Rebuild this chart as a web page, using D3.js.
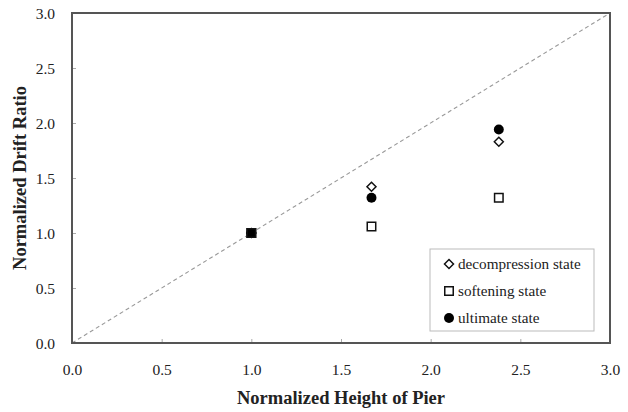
<!DOCTYPE html>
<html>
<head>
<meta charset="utf-8">
<script src="https://cdn.jsdelivr.net/npm/d3@7"></script>
<style>
  html, body { margin: 0; padding: 0; background: #fff; }
  svg { display: block; }
  svg text { font-family: 'Liberation Serif', 'Times New Roman', Times, 'DejaVu Serif', serif !important; }
</style>
</head>
<body>
<svg id="chart" width="628" height="412"></svg>
<script>
// Normalized pier heights for each specimen
const pierHeights = [1.0, 1.67, 2.38];
// Normalized drift ratio at each damage state
const decompression = [1.0, 1.42, 1.83];
const softening = [1.0, 1.06, 1.32];
const ultimate = [1.0, 1.32, 1.94];
const tickValues = [0, 0.5, 1.0, 1.5, 2.0, 2.5, 3.0];
const legendLabels = ["decompression state", "softening state", "ultimate state"];

const serif = "'Liberation Serif', 'Times New Roman', Times, 'DejaVu Serif', serif";
const svg = d3.select("#chart").attr("font-family", serif);
const plotLeft = 72, plotRight = 610, plotTop = 13, plotBottom = 343;

const x = d3.scaleLinear().domain([0, 3]).range([plotLeft, plotRight]);
const y = d3.scaleLinear().domain([0, 3]).range([plotBottom, plotTop]);

// Tick marks (inside the frame) and labels
const xAxis = d3.axisBottom(x).tickValues(tickValues).tickSize(-4).tickPadding(0).tickFormat(d3.format(".1f"));
const yAxis = d3.axisLeft(y).tickValues(tickValues).tickSize(-4).tickPadding(0).tickFormat(d3.format(".1f"));

const gx = svg.append("g").attr("transform", `translate(0,${plotBottom})`).call(xAxis)
  .attr("font-family", serif).attr("font-size", 15.5);
gx.select(".domain").remove();
gx.selectAll(".tick line").attr("stroke", "#aaa");
gx.selectAll(".tick text").attr("y", 32).attr("dy", 0).attr("fill", "#222");

const gy = svg.append("g").attr("transform", `translate(${plotLeft},0)`).call(yAxis)
  .attr("font-family", serif).attr("font-size", 15.5);
gy.select(".domain").remove();
gy.selectAll(".tick line").attr("stroke", "#aaa");
gy.selectAll(".tick text").attr("x", -17).attr("dy", "0.33em").attr("fill", "#222");

// 1:1 reference line
svg.append("line")
  .attr("x1", x(0)).attr("y1", y(0)).attr("x2", x(3)).attr("y2", y(3))
  .attr("stroke", "#999").attr("stroke-width", 1.1).attr("stroke-dasharray", "4,3");

// Plot frame
svg.append("rect")
  .attr("x", plotLeft).attr("y", plotTop)
  .attr("width", plotRight - plotLeft).attr("height", plotBottom - plotTop)
  .attr("fill", "none").attr("stroke", "#555").attr("stroke-width", 2);

// Marker shapes
const squareSym = d3.symbol().type(d3.symbolSquare).size(72);
const circleSym = d3.symbol().type(d3.symbolCircle).size(78);
function diamondPath(s) {
  return `M0,${-s}L${s},0L0,${s}L${-s},0Z`;
}

// Softening state: open squares
svg.append("g").selectAll("path").data(pierHeights).join("path")
  .attr("d", squareSym)
  .attr("transform", (d, i) => `translate(${x(d)},${y(softening[i])})`)
  .attr("fill", "#fff").attr("stroke", "#111").attr("stroke-width", 1.5);

// Decompression state: open diamonds
svg.append("g").selectAll("path").data(pierHeights).join("path")
  .attr("d", diamondPath(4.5))
  .attr("transform", (d, i) => `translate(${x(d)},${y(decompression[i])})`)
  .attr("fill", "#fff").attr("stroke", "#111").attr("stroke-width", 1.5);

// Ultimate state: filled circles
svg.append("g").selectAll("path").data(pierHeights).join("path")
  .attr("d", circleSym)
  .attr("transform", (d, i) => `translate(${x(d)},${y(ultimate[i])})`)
  .attr("fill", "#000");

// Coincident markers at the reference pier render as a solid block
svg.append("path")
  .attr("d", squareSym)
  .attr("transform", `translate(${x(pierHeights[0])},${y(softening[0])})`)
  .attr("fill", "#000").attr("stroke", "#111").attr("stroke-width", 1.5);

// Legend
const lg = svg.append("g");
lg.append("rect").attr("x", 430).attr("y", 249).attr("width", 164).attr("height", 82)
  .attr("fill", "#fff").attr("stroke", "#bbb").attr("stroke-width", 1);
const rows = [264, 291, 318];
lg.append("path").attr("d", diamondPath(4.5)).attr("transform", `translate(449,${rows[0]})`)
  .attr("fill", "#fff").attr("stroke", "#111").attr("stroke-width", 1.5);
lg.append("path").attr("d", squareSym).attr("transform", `translate(449,${rows[1]})`)
  .attr("fill", "#fff").attr("stroke", "#111").attr("stroke-width", 1.5);
lg.append("path").attr("d", circleSym).attr("transform", `translate(449,${rows[2]})`)
  .attr("fill", "#000");
lg.selectAll("text.lbl").data(legendLabels).join("text").attr("class", "lbl")
  .attr("x", 458).attr("y", (d, i) => rows[i]).attr("dy", "0.33em")
  .attr("font-size", 15.2).attr("fill", "#222").text(d => d);

// Axis titles
svg.append("text")
  .attr("x", (plotLeft + plotRight) / 2).attr("y", 404)
  .attr("text-anchor", "middle").attr("font-size", 18.5).attr("font-weight", "bold")
  .attr("fill", "#222").text("Normalized Height of Pier");

svg.append("text")
  .attr("transform", `translate(26,${(plotTop + plotBottom) / 2}) rotate(-90)`)
  .attr("text-anchor", "middle").attr("font-size", 18.5).attr("font-weight", "bold")
  .attr("fill", "#222").text("Normalized Drift Ratio");
</script>
</body>
</html>
